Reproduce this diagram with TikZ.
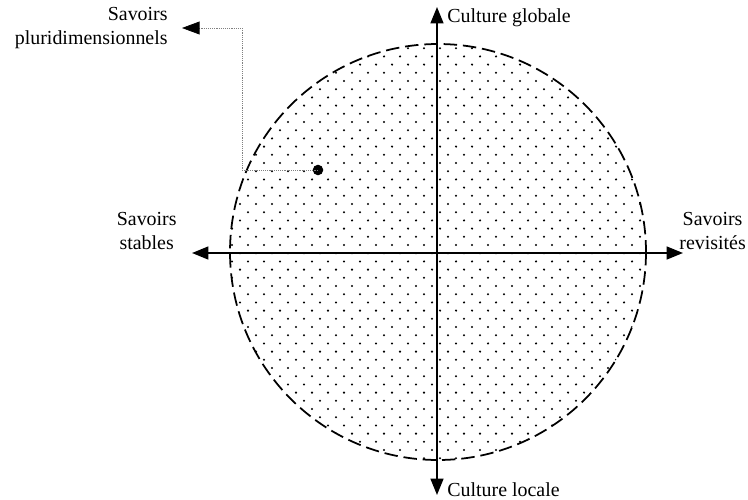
\documentclass[tikz,border=0pt]{standalone}
\usepackage{fontspec}
\setmainfont{Liberation Serif}
\usetikzlibrary{arrows.meta, positioning}

\begin{document}
\begin{tikzpicture}[x=0.03cm, y=-0.03cm, font=\fontsize{17}{20.5}\selectfont,
    axe/.style={line width=1.6pt, {Triangle[length=14pt, width=11pt]}-{Triangle[length=14pt, width=11pt]}},
    bord/.style={line width=1.5pt, dash pattern=on 11.5pt off 5pt},
    lien/.style={gray, line width=0.6pt, densely dotted, -{Triangle[length=15pt, width=11pt, color=black, fill=black]}},
    lbl/.style={align=center, inner sep=1pt}]
\useasboundingbox (0,0) rectangle (748,500);
% zone pointillee
\begin{scope}
\clip (438,252) circle (208);
\foreach \r in {0,...,53} {
  \pgfmathsetmacro{\off}{8*mod(\r,2)}
  \foreach \c in {0,...,27} {
    \fill ({224+16*\c+\off}, {40+8.2*\r}) circle (1.15);
  }
}
\end{scope}
\draw[bord] (438,252) circle (208);
% axes
\coordinate (haut) at (437,7);
\coordinate (bas) at (437,495);
\coordinate (gauche) at (192,253);
\coordinate (droite) at (683,253);
\draw[axe] (gauche) -- (droite);
\draw[axe] (bas) -- (haut);
\node[lbl, anchor=west] (glob) at (446,18) {Culture globale};
\node[lbl, anchor=west] (loc) at (446,490) {Culture locale};
\node[lbl, anchor=east] (stab) at (178,231) {Savoirs\\stables};
\node[lbl, anchor=west] (rev) at (678,231) {Savoirs\\revisit\'es};
% savoirs pluridimensionnels
\node[circle, fill=black, inner sep=0pt, minimum size=9pt] (pd) at (318,170) {};
\node[align=right, inner sep=1pt, anchor=east] (lpd) at (169,28) {Savoirs\\pluridimensionnels};
\coordinate (coude) at (242,28);
\coordinate (pointe) at (182,28);
\draw[lien] (pd.center) -- (pd -| coude) |- (pointe);
\end{tikzpicture}
\end{document}
